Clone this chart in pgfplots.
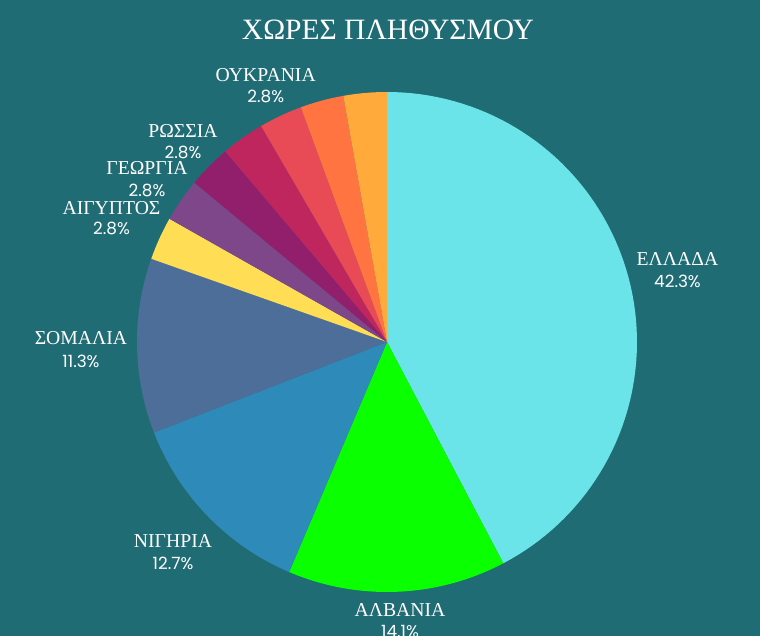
\documentclass[border=0pt]{standalone}
\usepackage{pgfplots}
\pgfplotsset{compat=1.18}
\usepackage{fontspec}
\setmainfont{Liberation Serif}
\newfontfamily\pctfont{Poppins}
\definecolor{bgcol}{RGB}{32,108,117}
\definecolor{cEL}{RGB}{106,228,232}
\definecolor{cAL}{RGB}{10,255,0}
\definecolor{cNI}{RGB}{46,138,184}
\definecolor{cSO}{RGB}{78,110,154}
\definecolor{cAI}{RGB}{255,221,85}
\definecolor{cGE}{RGB}{126,71,138}
\definecolor{cRO}{RGB}{146,31,108}
\definecolor{cX1}{RGB}{192,38,94}
\definecolor{cOY}{RGB}{232,75,85}
\definecolor{cX2}{RGB}{255,116,64}
\definecolor{cX3}{RGB}{255,170,58}
% #1 cumulative percent before slice, #2 slice percent, #3 colour
\newcommand{\slice}[3]{%
  \pgfmathsetmacro\angA{90-3.6*#1}%
  \pgfmathsetmacro\angB{90-3.6*(#1+#2)}%
  \edef\temp{\noexpand\addplot[draw=none, fill=#3, domain=\angB:\angA, samples=80] ({cos(x)},{sin(x)}) -- (axis cs:0,0) -- cycle;}%
  \temp
}
\newcommand{\lab}[5]{% name x, name y, pct y, name, pct
  \node[text=white, font=\fontsize{14}{16}\selectfont, inner sep=0pt] at (axis cs:#1,#2) {#4};
  \node[text=white, font=\pctfont\fontsize{12}{14}\selectfont, inner sep=0pt] at (axis cs:#1,#3) {#5};
}
\begin{document}
\begin{tikzpicture}
\begin{axis}[
  scale only axis, width=19cm, height=15.9cm,
  xmin=-1.548, xmax=1.492, ymin=-1.176, ymax=1.368,
  axis lines=none, xtick=\empty, ytick=\empty,
  axis background/.style={fill=bgcol},
]
\slice{0}{42.3}{cEL}
\slice{42.3}{14.1}{cAL}
\slice{56.4}{12.7}{cNI}
\slice{69.1}{11.3}{cSO}
\slice{80.4}{2.8}{cAI}
\slice{83.2}{2.8}{cGE}
\slice{86.0}{2.8}{cRO}
\slice{88.8}{2.8}{cX1}
\slice{91.6}{2.8}{cOY}
\slice{94.4}{2.8}{cX2}
\slice{97.2}{2.8}{cX3}
\node[text=white, font=\fontsize{21}{25}\selectfont, inner sep=0pt] at (axis cs:0.004,1.248) {ΧΩΡΕΣ ΠΛΗΘΥΣΜΟΥ};
\lab{1.162}{0.332}{0.244}{ΕΛΛΑΔΑ}{42.3\%}
\lab{0.052}{-1.072}{-1.160}{ΑΛΒΑΝΙΑ}{14.1\%}
\lab{-0.856}{-0.798}{-0.884}{ΝΙΓΗΡΙΑ}{12.7\%}
\lab{-1.224}{0.016}{-0.076}{ΣΟΜΑΛΙΑ}{11.3\%}
\lab{-1.102}{0.536}{0.456}{ΑΙΓΥΠΤΟΣ}{2.8\%}
\lab{-0.96}{0.696}{0.608}{ΓΕΩΡΓΙΑ}{2.8\%}
\lab{-0.816}{0.846}{0.760}{ΡΩΣΣΙΑ}{2.8\%}
\lab{-0.485}{1.068}{0.984}{ΟΥΚΡΑΝΙΑ}{2.8\%}
\end{axis}
\pgfresetboundingbox
\useasboundingbox (current axis.south west) rectangle (current axis.north east);
\end{tikzpicture}
\end{document}
